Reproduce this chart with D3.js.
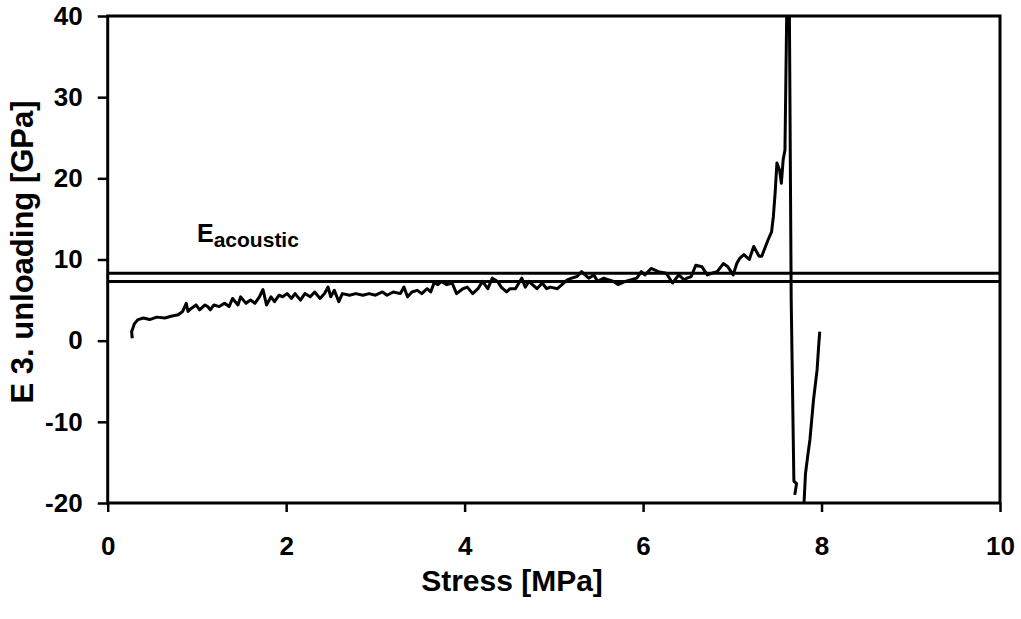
<!DOCTYPE html>
<html>
<head>
<meta charset="utf-8">
<script src="https://cdn.jsdelivr.net/npm/d3@7"></script>
<style>
  body { margin: 0; background: #fff; }
  text { font-family: "Liberation Sans", Arial, sans-serif; font-weight: bold; fill: #000; }
</style>
</head>
<body>
<div id="chart"></div>
<script>
// stress [MPa] and E (unloading) [GPa]; null = break in the line
var stress = [
  0.275, 0.268, 0.30, 0.34, 0.40, 0.47, 0.55, 0.64, 0.71, 0.79, 0.84, 0.88, 0.90, 0.94, 0.99, 1.03, 1.09, 1.12, 1.15, 1.19,
  1.25, 1.31, 1.36, 1.40, 1.46, 1.49, 1.55, 1.60, 1.65, 1.70, 1.74, 1.78, 1.83, 1.87, 1.92, 1.96,
  2.01, 2.06, 2.10, 2.16, 2.21, 2.27, 2.32, 2.38, 2.43, 2.47, 2.50, 2.54, 2.59, 2.63, 2.71, 2.78, 2.86, 2.93, 3.00,
  3.08, 3.13, 3.20, 3.28, 3.32, 3.36, 3.41, 3.47, 3.52, 3.58, 3.62, 3.66, 3.70,
  3.74, 3.80, 3.86, 3.91, 3.98, 4.03, 4.09, 4.15, 4.20, 4.26, 4.31, 4.37, 4.41, 4.47, 4.51, 4.57, 4.64, 4.68,
  4.72, 4.81, 4.87, 4.92, 4.96, 5.04, 5.09, 5.15, 5.20, 5.26, 5.31, 5.39, 5.45, 5.49, 5.56, 5.61, 5.67,
  5.72, 5.80, 5.87, 5.93, 5.98, 6.02, 6.09, 6.17, 6.26, 6.33, 6.40, 6.46, 6.49, 6.54, 6.59, 6.66, 6.72, 6.77,
  6.83, 6.90, 6.95, 7.01, 7.05, 7.08, 7.13, 7.19, 7.24, 7.30, 7.33, 7.40, 7.44, 7.46, 7.48, 7.50, 7.53, 7.55, 7.57,
  7.59, 7.61, 7.62, 7.64, 7.66, 7.69, 7.72, 7.70, null,
  7.79, 7.82, 7.85, 7.87, 7.91, 7.95, 7.97, 7.98
];
var modulus = [
  0.3, 1.1, 2.1, 2.6, 2.8, 2.6, 2.9, 2.8, 3.0, 3.2, 3.6, 4.6, 3.6, 4.0, 4.4, 3.8, 4.4, 4.2, 3.8, 4.4,
  4.2, 4.6, 4.2, 5.2, 4.4, 5.4, 4.6, 5.0, 4.6, 5.4, 6.3, 4.4, 5.4, 4.8, 5.6, 5.4,
  5.8, 5.2, 5.8, 5.0, 5.8, 5.4, 6.0, 5.2, 5.8, 6.6, 5.4, 6.2, 4.8, 5.8, 5.6, 5.8, 5.6, 5.8, 5.6,
  6.0, 5.6, 6.0, 5.8, 6.6, 5.4, 6.0, 6.2, 5.8, 6.4, 6.0, 7.2, 6.9,
  7.3, 6.9, 7.1, 5.8, 6.4, 6.6, 5.8, 6.4, 7.3, 6.4, 7.7, 7.3, 6.6, 6.0, 6.4, 6.4, 7.7, 6.6,
  7.3, 6.4, 7.1, 6.4, 6.6, 6.4, 6.9, 7.5, 7.7, 7.9, 8.5, 7.7, 8.1, 7.3, 7.7, 7.5, 7.3,
  6.9, 7.3, 7.5, 7.7, 8.5, 8.1, 8.9, 8.5, 8.3, 7.1, 8.1, 7.5, 7.7, 7.9, 9.3, 9.1, 8.1, 8.3,
  8.5, 9.5, 9.1, 8.1, 9.5, 10.1, 10.6, 10.0, 11.6, 10.4, 10.4, 12.4, 13.4, 15.3, 18.2, 21.9, 21.0, 19.4, 22.3,
  23.5, 40.5, 45, 40, 5, -17.3, -17.6, -19.0, null,
  -23, -16.4, -13.8, -12.2, -7.3, -3.6, -0.3, 1.1
];
var eAcoustic = [8.3, 7.3];
var xTicks = [0, 2, 4, 6, 8, 10];
var yTicks = [-20, -10, 0, 10, 20, 30, 40];

var W = 1021, H = 619;
var m = { left: 107.7, right: 21, top: 16, bottom: 116 };

var svg = d3.select("#chart").append("svg")
  .attr("width", W).attr("height", H);

var x = d3.scaleLinear().domain([0, 10]).range([m.left, W - m.right]);
var y = d3.scaleLinear().domain([-20, 40]).range([H - m.bottom, m.top]);

svg.append("clipPath").attr("id", "clip")
  .append("rect")
  .attr("x", x(0)).attr("y", y(40))
  .attr("width", x(10) - x(0)).attr("height", y(-20) - y(40));

var g = svg.append("g").attr("clip-path", "url(#clip)");

// acoustic modulus band
g.selectAll("line.eac")
  .data(eAcoustic)
  .join("line")
  .attr("class", "eac")
  .attr("x1", x(0)).attr("x2", x(10))
  .attr("y1", d => y(d)).attr("y2", d => y(d))
  .attr("stroke", "#000").attr("stroke-width", 3);

var pts = stress.map((s, i) => [s, modulus[i]]);
var line = d3.line()
  .defined(d => d[0] != null)
  .x(d => x(d[0]))
  .y(d => y(d[1]));

g.append("path")
  .attr("d", line(pts))
  .attr("fill", "none")
  .attr("stroke", "#000")
  .attr("stroke-width", 3)
  .attr("stroke-linejoin", "round");

// plot frame
svg.append("rect")
  .attr("x", x(0)).attr("y", y(40))
  .attr("width", x(10) - x(0)).attr("height", y(-20) - y(40))
  .attr("fill", "none").attr("stroke", "#000").attr("stroke-width", 3);

var xAxis = svg.append("g")
  .attr("transform", `translate(0,${y(-20)})`)
  .call(d3.axisBottom(x).tickValues(xTicks).tickSize(9).tickPadding(25).tickFormat(d => String(d)));
var yAxis = svg.append("g")
  .attr("transform", `translate(${x(0)},0)`)
  .call(d3.axisLeft(y).tickValues(yTicks).tickSize(10).tickPadding(15).tickFormat(d => String(d)));

[xAxis, yAxis].forEach(a => {
  a.select(".domain").remove();
  a.selectAll(".tick line").attr("stroke", "#000").attr("stroke-width", 2.5);
  a.selectAll(".tick text")
    .attr("font-family", "Liberation Sans, Arial, sans-serif")
    .attr("font-weight", "bold")
    .attr("font-size", 26)
    .attr("fill", "#000");
});

svg.append("text")
  .attr("x", 512).attr("y", 591)
  .attr("text-anchor", "middle")
  .attr("font-size", 30)
  .text("Stress [MPa]");

svg.append("text")
  .attr("transform", "translate(33,252) rotate(-90)")
  .attr("text-anchor", "middle")
  .attr("font-size", 31)
  .text("E 3. unloading [GPa]");

var lab = svg.append("text").attr("x", 197).attr("y", 242).attr("font-size", 25);
lab.append("tspan").text("E");
lab.append("tspan").attr("dy", 5).attr("font-size", 21).text("acoustic");
</script>
</body>
</html>
